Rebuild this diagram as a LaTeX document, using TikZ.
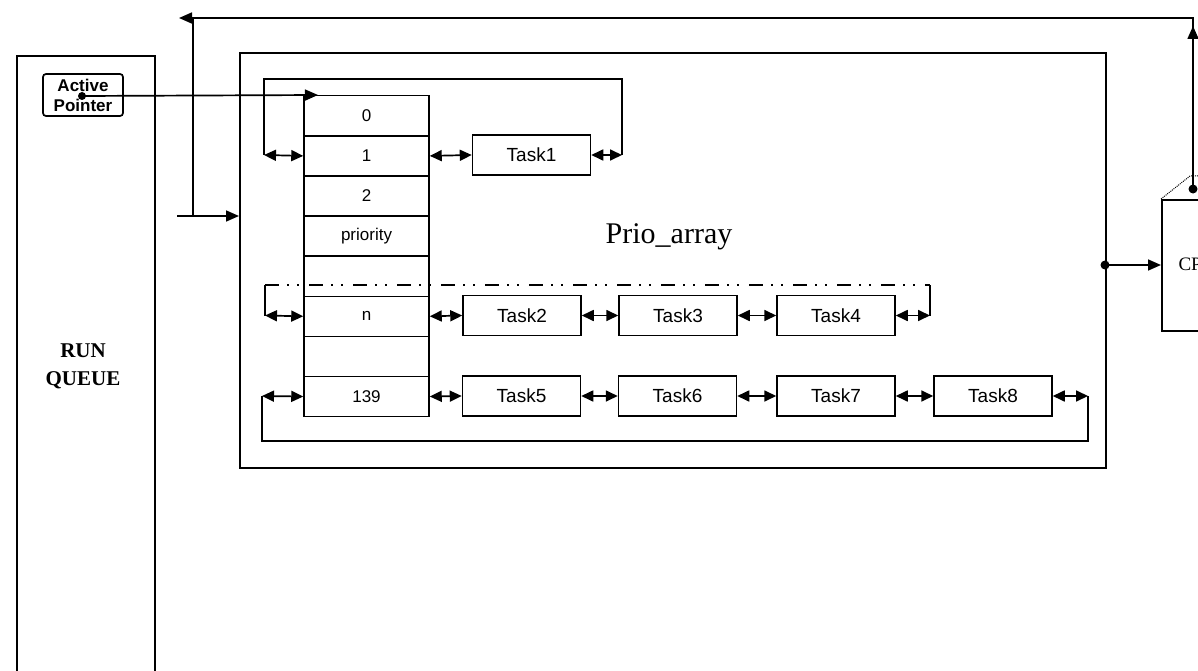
\documentclass[tikz,border=0pt]{standalone}
\usepackage{fontspec}
\setmainfont{Liberation Serif}
\setsansfont{Liberation Sans}
\usetikzlibrary{arrows.meta}
\begin{document}
\begin{tikzpicture}[x=1pt,y=-1pt,
  ln/.style={line width=1.7pt},
  tip/.style={-{Triangle[length=13pt,width=11pt]}},
  dbl/.style={line width=1.7pt,{Triangle[length=12pt,width=11pt]}-{Triangle[length=12pt,width=11pt]}},
  task/.style={draw,line width=1.5pt,minimum width=118pt,minimum height=40pt,inner sep=0pt,font=\sffamily\fontsize{19}{21}\selectfont},
  cell/.style={draw,line width=1.5pt,minimum width=125pt,minimum height=40.1pt,inner sep=0pt,font=\sffamily\fontsize{17}{19}\selectfont},
  frame/.style={draw,line width=1.7pt,inner sep=0pt,anchor=north west},
  dot/.style={circle,fill,inner sep=0pt,minimum size=9pt},
  dashdots/.style={line width=1.7pt,dash pattern=on 14pt off 8pt on 2pt off 8pt on 2pt off 10pt}]
\useasboundingbox (0,0) rectangle (1198,671);
\clip (0,0) rectangle (1198,671);

% run queue
\node[frame,minimum width=138pt,minimum height=660pt] (rq) at (16,55) {};
\node[font=\bfseries\fontsize{21}{28}\selectfont,align=center] (rqlabel) at (83,366) {RUN\\QUEUE};
\node[draw,rounded corners=3pt,line width=1.7pt,minimum width=80pt,minimum height=42pt,inner sep=0pt,
      font=\sffamily\bfseries\fontsize{17}{20}\selectfont,align=center] (ap) at (83,95) {Active\\Pointer};
\node[dot,minimum size=8pt] (apdot) at (82,96) {};

% prio array frame
\node[frame,minimum width=866pt,minimum height=415pt] (prio) at (239,52) {};
\node[font=\fontsize{30}{32}\selectfont] (plabel) at (669,237) {Prio\_array};

% array cells
\foreach \i/\t in {0/0,1/1,2/2,3/priority,4/{},5/n,6/{},7/139}{
  \node[cell,anchor=north] (c\i) at (366.5,{95+40.1*\i}) {\t};
}

% tasks
\node[task] (t1) at (531.5,155) {Task1};
\node[task] (t2) at (522,315.5) {Task2};
\node[task] (t3) at (678,315.5) {Task3};
\node[task] (t4) at (836,315.5) {Task4};
\node[task] (t5) at (521.5,396) {Task5};
\node[task] (t6) at (677.5,396) {Task6};
\node[task] (t7) at (836,396) {Task7};
\node[task] (t8) at (993,396) {Task8};

% CPU
\node[frame,minimum width=90pt,minimum height=131pt] (cpu) at (1161,199) {};
\node[anchor=west,font=\fontsize{19}{20}\selectfont] (cputext) at (1175,264) {CPU};
\coordinate (fold) at (1190,176);
\coordinate (foldR) at (1200,176);
\draw[densely dotted,line width=1pt] (cpu.north west) -- (fold) -- (foldR);
\node[dot] (cpudot) at (1193,189) {};

% feedback path from CPU to the top
\coordinate (TR) at (1193,18);
\coordinate (TRa) at (1193,26);
\coordinate (TL) at (179,18);
\coordinate (TJ) at (193,18);
\coordinate (HJ) at (193,216);
\coordinate (HS) at (177,216);
\draw[ln,tip] (cpudot.center) -- (TR) -- (TL);
\draw[ln,tip] (cpudot.center) -- (TRa);
\draw[ln] (TJ) -- (HJ);
\draw[ln,tip] (HS) -- (HS -| prio.west);

% prio -> CPU
\node[dot] (pdot) at (1105,265) {};
\draw[ln,tip] (pdot.center) -- (pdot.center -| cpu.west);

% active pointer
\coordinate (A0) at (318,95);
\draw[ln,tip] (apdot.center) -- (A0);

% row 1 loop
\coordinate (L1) at (264,155);
\coordinate (T1) at (622,79);
\coordinate (R1) at (622,155);
\draw[dbl] (L1) -- (c1.west);
\draw[dbl] (c1.east) -- (t1.west);
\draw[dbl] (t1.east) -- (R1);
\draw[ln] (L1) |- (T1) -- (R1);

% row n loop
\coordinate (L2) at (265,315.5);
\coordinate (T2a) at (265,285);
\coordinate (T2b) at (930,285);
\coordinate (R2) at (930,315.5);
\draw[dbl] (L2) -- (c5.west);
\draw[dbl] (c5.east) -- (t2.west);
\draw[dbl] (t2.east) -- (t3.west);
\draw[dbl] (t3.east) -- (t4.west);
\draw[dbl] (t4.east) -- (R2);
\draw[ln] (L2) -- (T2a);
\draw[dashdots] (T2a) -- (T2b);
\draw[ln] (T2b) -- (R2);

% row 139 loop
\coordinate (L3) at (262,396);
\coordinate (B3) at (1088,441);
\coordinate (R3) at (1088,396);
\draw[dbl] (L3) -- (c7.west);
\draw[dbl] (c7.east) -- (t5.west);
\draw[dbl] (t5.east) -- (t6.west);
\draw[dbl] (t6.east) -- (t7.west);
\draw[dbl] (t7.east) -- (t8.west);
\draw[dbl] (t8.east) -- (R3);
\draw[ln] (L3) |- (B3) -- (R3);
\end{tikzpicture}
\end{document}
